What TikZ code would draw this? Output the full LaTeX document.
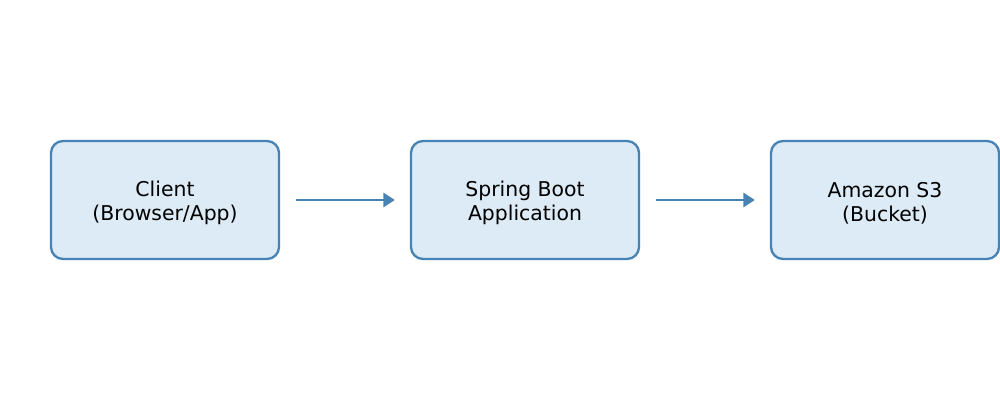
\documentclass[tikz,border=0pt]{standalone}
\usepackage{fontspec}
\setmainfont{DejaVu Sans}
\usetikzlibrary{arrows.meta}
\definecolor{boxline}{HTML}{4682B4}
\definecolor{boxfill}{HTML}{DCEBF5}
\begin{document}
\begin{tikzpicture}[x=0.03cm,y=-0.03cm,line join=round]
\tikzstyle{stage} = [draw=boxline,fill=boxfill,line width=2pt,rounded corners=0.36cm,
  minimum width=6.84cm,minimum height=3.54cm]
\tikzstyle{stage text} = [align=center,font=\fontsize{17.4}{20.4}\selectfont]
\tikzstyle{flow} = [draw=boxline,line width=2pt,-{Triangle[length=0.34cm,width=0.42cm]},
  shorten <=0.48cm,shorten >=0.45cm]

\useasboundingbox (0,0) rectangle (1000,400);

\node[stage] (client) at (165,200) {};
\node[stage] (app)    at (525,200) {};
\node[stage] (bucket) at (885,200) {};

\node[stage text] (client text) at (165,203) {Client\\(Browser/App)};
\node[stage text] (app text)    at (525,203) {Spring Boot\\Application};
\node[stage text] (bucket text) at (885,203) {Amazon S3\\(Bucket)};

\draw[flow] (client) -- (app);
\draw[flow] (app) -- (bucket);

\end{tikzpicture}
\end{document}
